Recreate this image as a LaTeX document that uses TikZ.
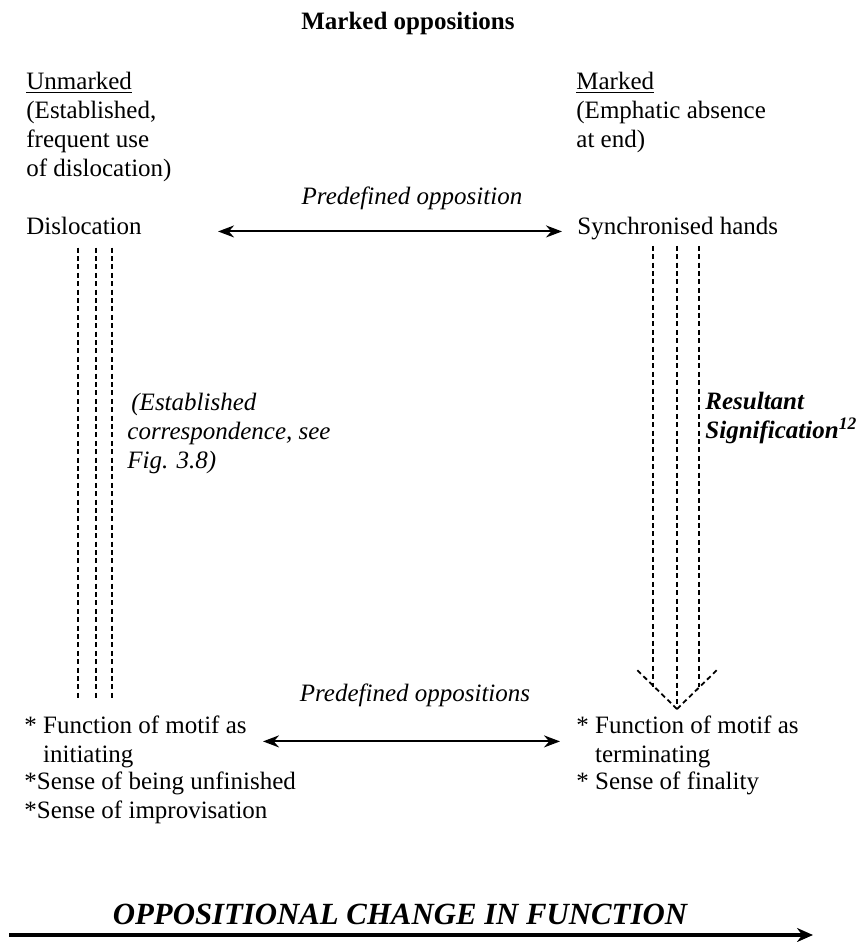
\documentclass[tikz,border=0pt]{standalone}
\usepackage{fontspec}
\setmainfont{Liberation Serif}
\usetikzlibrary{arrows.meta}

\begin{document}
\begin{tikzpicture}[x=0.5pt,y=-0.5pt,
	txt/.style={inner sep=0pt,align=left,font=\fontsize{12.5}{14.5}\selectfont},
	lbl/.style={txt,font=\fontsize{12.5}{14.5}\selectfont\itshape},
	twoway/.style={{Stealth[length=8pt,width=6pt]}-{Stealth[length=8pt,width=6pt]},line width=1pt},
	dashline/.style={dash pattern=on 2.5pt off 1.7pt,line width=0.9pt}]
	\useasboundingbox (0,0) rectangle (861,942);

	\node[txt,font=\fontsize{12.5}{14.5}\selectfont\bfseries] (head) at (408,23) {Marked oppositions};

	\node[txt,anchor=north west] (unm) at (26,72) {\underline{Unmarked}\\(Established,\\frequent use\\of dislocation)};
	\node[txt,anchor=north west] (mrk) at (576,72) {\underline{Marked}\\(Emphatic absence\\at end)};

	\node[lbl] (po1) at (412,198) {Predefined opposition};
	\node[txt,anchor=base west] (dis) at (26,234) {Dislocation};
	\node[txt,anchor=base west] (syn) at (577,234) {Synchronised hands};
	\draw[twoway,shorten <=38pt,shorten >=7.5pt] ([yshift=-3pt]dis.east) -- ([yshift=-3pt]dis.east -| syn.west);

	% base of a two-line node is its last line
	\node[lbl] (po2) at (415,695) {Predefined oppositions};
	\node[txt,anchor=base west] (fl1) at (24,762) {* Function of motif as\\\hphantom{*~}initiating};
	\node[txt,anchor=base west] (fl2) at (24,818) {*Sense of being unfinished\\*Sense of improvisation};
	\node[txt,anchor=base west] (fr1) at (576,762) {* Function of motif as\\\hphantom{*~}terminating};
	\node[txt,anchor=base west] (fr2) at (576,789) {* Sense of finality};
	\draw[twoway,shorten <=8pt,shorten >=8pt] (fl1.east) -- (fl1.east -| fr1.west);

	% correspondence lines
	\foreach \x in {78,96,112}
		\draw[dashline,shorten <=6.5pt,shorten >=8pt] (dis.south -| \x,0) -- (fl1.north -| \x,0);
	\node[lbl,anchor=base west] (est) at (127,468) {\hspace{2pt}(Established\\correspondence, see\\Fig. 3.8)};

	% resultant signification
	\coordinate (tip) at (677,709);
	\foreach \x in {653,699}
		\draw[dashline,shorten <=3pt] (syn.south -| \x,0) -- (\x,687);
	\draw[dashline,shorten <=3pt] (syn.south -| tip) -- (tip);
	\draw[dashline] (tip) -- ++(-42,-41);
	\draw[dashline] (tip) -- ++(42,-41);
	\node[txt,anchor=base west,font=\fontsize{12.5}{14.5}\selectfont\bfseries\itshape] (res) at (705,438) {Resultant\\Signification\textsuperscript{12}};

	\node[txt,font=\fontsize{15.4}{17}\selectfont\bfseries\itshape] (chg) at (400,914) {OPPOSITIONAL CHANGE IN FUNCTION};
	\coordinate (ch0) at (9,935);
	\coordinate (ch1) at (813,935);
	\draw[-{Stealth[length=8pt,width=7pt]},line width=2pt] (ch0) -- (ch1);
\end{tikzpicture}
\end{document}
